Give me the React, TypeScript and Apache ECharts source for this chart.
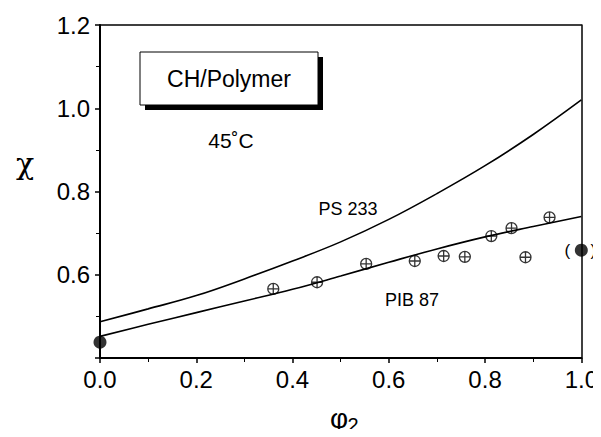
import React, { useEffect, useRef } from "react";
import * as echarts from "echarts";

const phiGrid = [0, 0.1, 0.2, 0.3, 0.4, 0.5, 0.6, 0.7, 0.8, 0.9, 1.0];
const ps233 = [0.487, 0.518, 0.55, 0.59, 0.633, 0.679, 0.733, 0.795, 0.862, 0.937, 1.02];
const pib87 = [0.452, 0.481, 0.509, 0.537, 0.565, 0.597, 0.63, 0.662, 0.691, 0.716, 0.74];
const openPhi = [0.36, 0.451, 0.553, 0.654, 0.714, 0.758, 0.813, 0.855, 0.884, 0.934];
const openChi = [0.566, 0.582, 0.626, 0.633, 0.645, 0.643, 0.693, 0.712, 0.642, 0.738];
const filledPoints = [[0, 0.438]];
const bracketPoint = [1.0, 0.659];

const FONT = "Liberation Sans, Arial, sans-serif";
const crossCircle =
  "path://M0,10 A10,10 0 1,1 20,10 A10,10 0 1,1 0,10 Z M10,0 L10,20 M0,10 L20,10";

export default function App() {
  const ref = useRef<HTMLDivElement>(null);
  useEffect(() => {
    if (!ref.current) return;
    const chart = echarts.init(ref.current, null, { renderer: "svg" });
    const tickLabel = { fontFamily: FONT, fontSize: 24, color: "#000" };
    const baseGraphic: any[] = [
      { type: "rect", shape: { x: 145, y: 57, width: 178, height: 53 }, style: { fill: "#000" } },
      {
        type: "rect",
        shape: { x: 140, y: 52, width: 178, height: 53 },
        style: { fill: "#fff", stroke: "#000", lineWidth: 1 },
      },
      {
        type: "text",
        x: 229,
        y: 79,
        style: { text: "CH/Polymer", font: `23px ${FONT}`, fill: "#000", align: "center", verticalAlign: "middle" },
      },
      {
        type: "text",
        x: 231,
        y: 140,
        style: { text: "45˚C", font: `21px ${FONT}`, fill: "#000", align: "center", verticalAlign: "middle" },
      },
      {
        type: "text",
        x: 348,
        y: 209,
        style: { text: "PS 233", font: `18px ${FONT}`, fill: "#000", align: "center", verticalAlign: "middle" },
      },
      {
        type: "text",
        x: 412,
        y: 300,
        style: { text: "PIB 87", font: `18px ${FONT}`, fill: "#000", align: "center", verticalAlign: "middle" },
      },
      {
        type: "text",
        x: 25,
        y: 163,
        style: { text: "χ", font: `30px "DejaVu Serif", serif`, fill: "#000", align: "center", verticalAlign: "middle" },
      },
      {
        type: "text",
        x: 339,
        y: 418,
        style: { text: "φ", font: `28px ${FONT}`, fill: "#000", align: "center", verticalAlign: "middle" },
      },
      {
        type: "text",
        x: 353,
        y: 425,
        style: { text: "2", font: `20px ${FONT}`, fill: "#000", align: "center", verticalAlign: "middle" },
      },
    ];
    chart.setOption({
      animation: false,
      backgroundColor: "#fff",
      grid: { left: 100, right: 18, top: 25, bottom: 79 },
      xAxis: [
        {
          type: "value",
          min: 0,
          max: 1,
          interval: 0.2,
          position: "bottom",
          axisLine: { show: true, lineStyle: { color: "#000", width: 2 } },
          axisTick: { show: true, length: 5, lineStyle: { color: "#000", width: 1.5 } },
          minorTick: { show: true, splitNumber: 2, length: 4, lineStyle: { color: "#000", width: 1 } },
          splitLine: { show: false },
          axisLabel: { ...tickLabel, margin: 9, formatter: (v: number) => v.toFixed(1) },
        },
        {
          type: "value",
          min: 0,
          max: 1,
          position: "top",
          axisLine: { show: true, onZero: false, lineStyle: { color: "#000", width: 1.5 } },
          axisTick: { show: false },
          axisLabel: { show: false },
          splitLine: { show: false },
        },
      ],
      yAxis: [
        {
          type: "value",
          min: 0.4,
          max: 1.2,
          interval: 0.2,
          position: "left",
          axisLine: { show: true, lineStyle: { color: "#000", width: 2 } },
          axisTick: { show: true, length: 5, lineStyle: { color: "#000", width: 1.5 } },
          minorTick: { show: true, splitNumber: 2, length: 4, lineStyle: { color: "#000", width: 1 } },
          splitLine: { show: false },
          axisLabel: {
            ...tickLabel,
            margin: 10,
            formatter: (v: number) => (Math.abs(v - 0.4) < 1e-6 ? "" : v.toFixed(1)),
          },
        },
        {
          type: "value",
          min: 0.4,
          max: 1.2,
          position: "right",
          axisLine: { show: true, onZero: false, lineStyle: { color: "#000", width: 1.5 } },
          axisTick: { show: false },
          axisLabel: { show: false },
          splitLine: { show: false },
        },
      ],
      series: [
        {
          type: "line",
          name: "PS 233",
          smooth: 0.4,
          showSymbol: false,
          data: phiGrid.map((p, i) => [p, ps233[i]]),
          lineStyle: { color: "#000", width: 1.6 },
        },
        {
          type: "line",
          name: "PIB 87",
          smooth: 0.4,
          showSymbol: false,
          data: phiGrid.map((p, i) => [p, pib87[i]]),
          lineStyle: { color: "#000", width: 1.6 },
        },
        {
          type: "scatter",
          data: openPhi.map((p, i) => [p, openChi[i]]),
          symbol: crossCircle,
          symbolSize: 11,
          symbolKeepAspect: true,
          itemStyle: { color: "#fff", borderColor: "#000", borderWidth: 1.3 },
        },
        {
          type: "scatter",
          data: filledPoints,
          symbol: "circle",
          symbolSize: 13,
          itemStyle: { color: "#000" },
        },
        {
          type: "scatter",
          data: [bracketPoint],
          symbol: "circle",
          symbolSize: 13,
          clip: false,
          itemStyle: { color: "#000" },
        },
      ],
      graphic: baseGraphic,
    });
    const pt = chart.convertToPixel({ gridIndex: 0 }, bracketPoint) as number[];
    chart.setOption({
      graphic: [
        ...baseGraphic,
        {
          type: "text",
          x: pt[0] - 14,
          y: pt[1],
          style: { text: "(", font: `17px ${FONT}`, fill: "#000", align: "center", verticalAlign: "middle" },
        },
        {
          type: "text",
          x: pt[0] + 12,
          y: pt[1],
          style: { text: ")", font: `17px ${FONT}`, fill: "#000", align: "center", verticalAlign: "middle" },
        },
      ],
    });
    return () => chart.dispose();
  }, []);
  return <div ref={ref} style={{ width: 601, height: 437, margin: -8 }} />;
}
